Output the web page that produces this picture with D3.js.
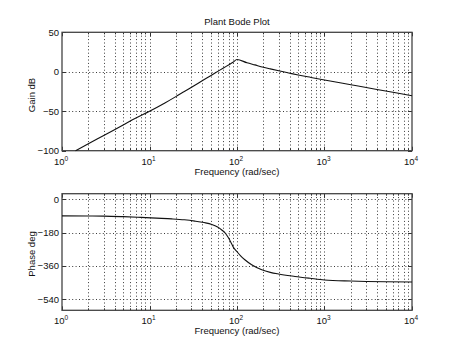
<!DOCTYPE html>
<html>
<head>
<meta charset="utf-8">
<script src="https://cdn.jsdelivr.net/npm/d3@7"></script>
<style>
  html, body { margin: 0; padding: 0; background: #fff; }
  svg { display: block; font-family: "Liberation Sans", Arial, Helvetica, sans-serif; }
  text { fill: #111; }
</style>
</head>
<body>
<svg id="chart" width="450" height="346"></svg>
<script>
// Magnitude response (rad/sec vs dB)
const gainFreq = [1.43, 2, 3, 5, 7, 10, 15, 20, 25, 33, 40, 50, 61, 70, 80, 90, 100,
                  130, 160, 200, 240, 300, 400, 500, 700, 1000, 2000, 3000, 5000, 7000, 10000];
const gainDb   = [-100, -91.3, -80.7, -67.4, -58.6, -50, -39.5, -31.5, -25, -17, -11.4, -5, 0.8, 4.8, 8.6, 12, 15.5,
                  11.4, 8.7, 5.8, 3.7, 1.2, -1.8, -4.1, -7.2, -10.4, -16.4, -19.9, -24.4, -27.3, -30.4];

// Phase response (rad/sec vs degrees)
const phaseFreq = [1, 2, 3, 5, 8, 12, 18, 25, 33, 42, 51.5, 60, 67, 74, 79.5, 85, 90, 100,
                   110, 123, 147, 192, 240, 298, 460, 682, 1000, 2000, 5000, 10000];
const phaseDeg  = [-90, -90.5, -91, -94, -98, -102, -106, -111, -118, -126, -136, -150, -166, -185, -207, -232, -256, -283,
                   -306, -327, -354, -381, -395, -404, -417, -427, -436, -442, -446, -447];

// Axis ticks
const freqDomain = [1, 10000];
const freqDecades = [0, 1, 2, 3, 4];
const gainTicks = [50, 0, -50, -100];
const gainDomain = [-100, 50];
const phaseTicks = [0, -180, -360, -540];
const phaseDomain = [-600, 30];

const titleText = "Plant Bode Plot";
const xLabelText = "Frequency (rad/sec)";
const gainLabelText = "Gain dB";
const phaseLabelText = "Phase deg";

const svg = d3.select("#chart");
const fontSize = 9.5;

const left = 62, right = 412;
const panels = [
  { top: 32.3, bottom: 150.7, freq: gainFreq, vals: gainDb, domain: gainDomain, ticks: gainTicks,
    ylabel: gainLabelText, ylabelY: 95, title: titleText },
  { top: 193.7, bottom: 310.3, freq: phaseFreq, vals: phaseDeg, domain: phaseDomain, ticks: phaseTicks,
    ylabel: phaseLabelText, ylabelY: 254 }
];

// all minor grid positions: 1..9 x each decade
const gridFreqs = [];
for (let d = 0; d < 4; d++) for (let m = 1; m <= 9; m++) gridFreqs.push(m * Math.pow(10, d));
gridFreqs.push(10000);

const fmtNum = v => (v < 0 ? "\u2212" + Math.abs(v) : String(v));

panels.forEach(p => {
  const x = d3.scaleLog().domain(freqDomain).range([left, right]);
  const y = d3.scaleLinear().domain(p.domain).range([p.bottom, p.top]);
  const g = svg.append("g");

  // dotted grid
  const grid = g.append("g").attr("stroke", "#222").attr("stroke-width", 0.9)
    .attr("stroke-dasharray", "1,2.4").attr("fill", "none");
  grid.selectAll("line.v").data(gridFreqs.filter(f => f > 1 && f < 10000)).join("line")
    .attr("x1", d => Math.round(x(d)) + 0.5).attr("x2", d => Math.round(x(d)) + 0.5)
    .attr("y1", p.top).attr("y2", p.bottom);
  grid.selectAll("line.h").data(p.ticks.filter(t => y(t) > p.top + 1 && y(t) < p.bottom - 1)).join("line")
    .attr("y1", d => Math.round(y(d)) + 0.5).attr("y2", d => Math.round(y(d)) + 0.5)
    .attr("x1", left).attr("x2", right);

  // inward ticks on all four sides
  const tk = g.append("g").attr("stroke", "#333").attr("stroke-width", 1);
  const decTicks = freqDecades.map(d => Math.pow(10, d));
  gridFreqs.forEach(f => {
    const xx = Math.round(x(f)) + 0.5;
    const len = decTicks.includes(f) ? 4 : 2;
    tk.append("line").attr("x1", xx).attr("x2", xx).attr("y1", p.bottom).attr("y2", p.bottom - len);
    tk.append("line").attr("x1", xx).attr("x2", xx).attr("y1", p.top).attr("y2", p.top + len);
  });
  p.ticks.forEach(t => {
    const yy = Math.round(y(t)) + 0.5;
    tk.append("line").attr("x1", left).attr("x2", left + 4).attr("y1", yy).attr("y2", yy);
    tk.append("line").attr("x1", right).attr("x2", right - 4).attr("y1", yy).attr("y2", yy);
  });

  // frame
  g.append("rect").attr("x", left).attr("y", p.top)
    .attr("width", right - left).attr("height", p.bottom - p.top)
    .attr("fill", "none").attr("stroke", "#444").attr("stroke-width", 1.3);

  // response curve
  const pts = p.freq.map((f, i) => [f, p.vals[i]]);
  const line = d3.line().x(d => x(d[0])).y(d => y(d[1])).curve(d3.curveMonotoneX);
  g.append("path").datum(pts).attr("d", line)
    .attr("fill", "none").attr("stroke", "#111").attr("stroke-width", 1.1);

  // y tick labels
  g.selectAll("text.yt").data(p.ticks).join("text")
    .attr("x", left - 3).attr("y", d => y(d)).attr("dy", "0.35em")
    .attr("text-anchor", "end").attr("font-size", fontSize)
    .text(d => fmtNum(d));

  // x tick labels 10^n
  freqDecades.forEach(d => {
    const t = g.append("text").attr("x", x(Math.pow(10, d)) - 1).attr("y", p.bottom + 14)
      .attr("text-anchor", "middle").attr("font-size", fontSize);
    t.append("tspan").text("10");
    t.append("tspan").attr("dy", -4).attr("font-size", 6.5).text(String(d));
  });

  // axis labels
  g.append("text").attr("x", (left + right) / 2).attr("y", p.bottom + 24)
    .attr("text-anchor", "middle").attr("font-size", fontSize).text(xLabelText);
  g.append("text").attr("transform", `translate(35,${p.ylabelY}) rotate(-90)`)
    .attr("text-anchor", "middle").attr("font-size", fontSize).text(p.ylabel);

  if (p.title) {
    g.append("text").attr("x", (left + right) / 2).attr("y", p.top - 7)
      .attr("text-anchor", "middle").attr("font-size", fontSize).text(p.title);
  }
});
</script>
</body>
</html>
